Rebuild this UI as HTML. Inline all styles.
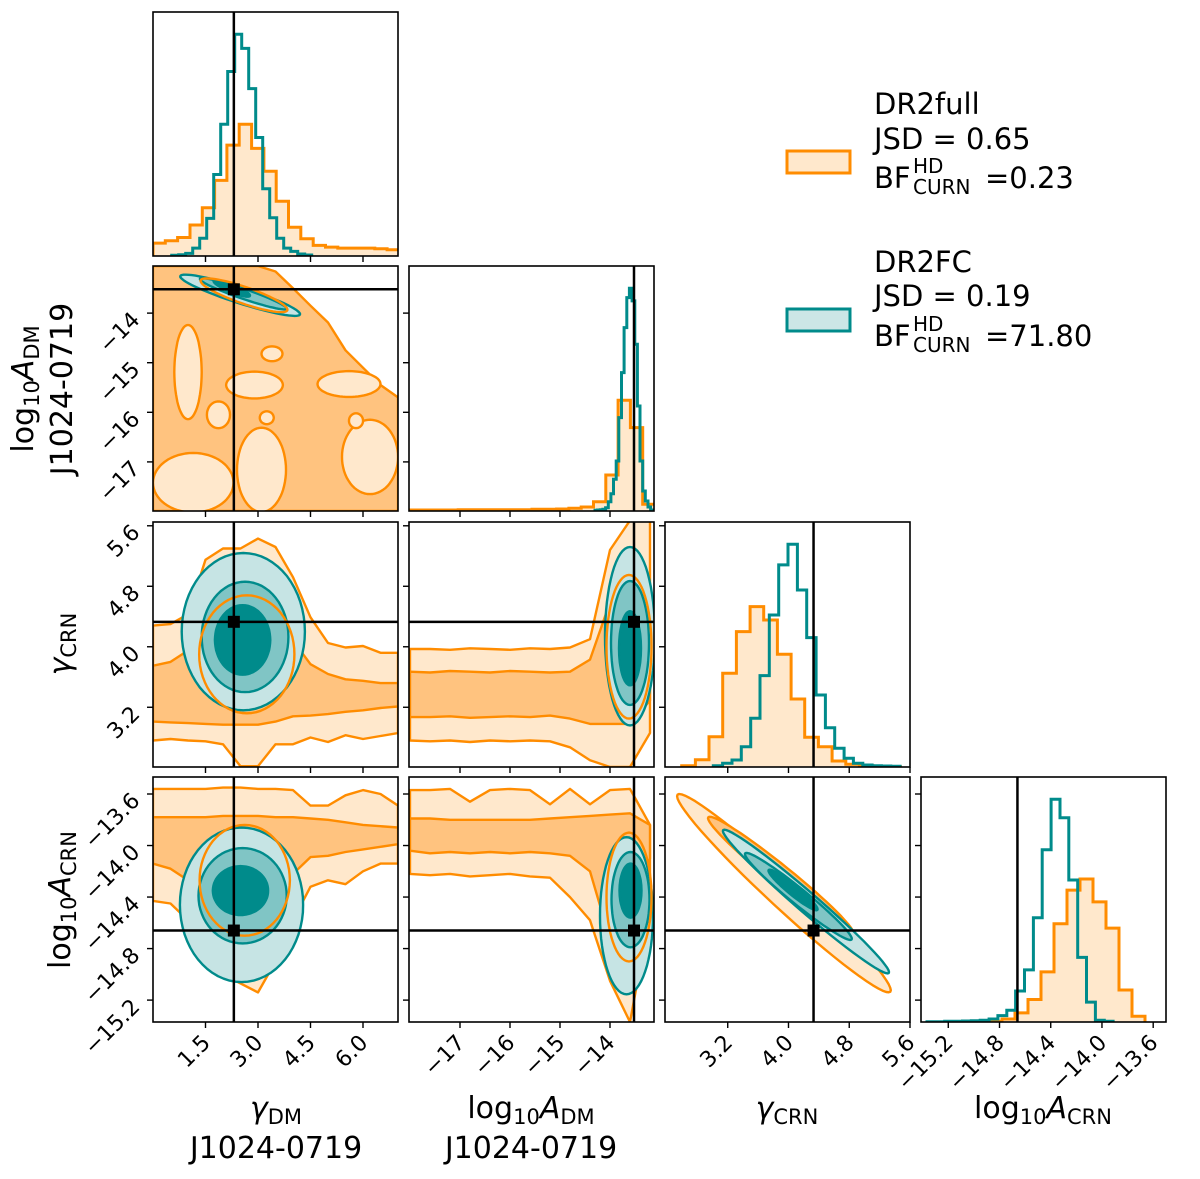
<!DOCTYPE html>
<html><head><meta charset="utf-8"><style>
html,body{margin:0;padding:0;background:#fff;}
svg{display:block;font-family:"DejaVu Sans","Liberation Sans",sans-serif;}
</style></head><body>
<svg id="fig" width="1200" height="1179" viewBox="0 0 1200 1179" xmlns="http://www.w3.org/2000/svg">
<defs id="defs"></defs>
<rect x="0" y="0" width="1200" height="1179" fill="#fff"/>
<g id="marks"></g>
<g id="axes"></g>
<g>
  <rect x="787" y="151" width="63" height="22" fill="#ffe8cc" stroke="#ff8c00" stroke-width="3"/>
  <text x="874" y="114" font-size="29">DR2full</text>
  <text x="874" y="149" font-size="29">JSD = 0.65</text>
  <text x="874" y="188" font-size="29">BF</text>
  <text x="913" y="173" font-size="20">HD</text>
  <text x="913" y="194" font-size="20">CURN</text>
  <text x="985" y="188" font-size="29">=0.23</text>
  <rect x="787" y="309" width="63" height="22" fill="#cce6e6" stroke="#008b8b" stroke-width="3"/>
  <text x="874" y="272" font-size="29">DR2FC</text>
  <text x="874" y="306" font-size="29">JSD = 0.19</text>
  <text x="874" y="346" font-size="29">BF</text>
  <text x="913" y="331" font-size="20">HD</text>
  <text x="913" y="352" font-size="20">CURN</text>
  <text x="985" y="346" font-size="29">=71.80</text>
</g>
<g>
  <text x="33" y="389" font-size="30" text-anchor="middle" transform="rotate(-90 33 389)">log<tspan font-size="21" dy="6">10</tspan><tspan font-style="italic" dy="-6">A</tspan><tspan font-size="21" dy="6">DM</tspan></text>
  <text x="72" y="389" font-size="30" text-anchor="middle" transform="rotate(-90 72 389)">J1024-0719</text>
  <text x="70" y="644" font-size="30" text-anchor="middle" transform="rotate(-90 70 644)"><tspan font-style="italic">γ</tspan><tspan font-size="21" dy="6">CRN</tspan></text>
  <text x="70" y="900" font-size="30" text-anchor="middle" transform="rotate(-90 70 900)">log<tspan font-size="21" dy="6">10</tspan><tspan font-style="italic" dy="-6">A</tspan><tspan font-size="21" dy="6">CRN</tspan></text>
  <text x="276" y="1118" font-size="30" text-anchor="middle"><tspan font-style="italic">γ</tspan><tspan font-size="21" dy="6">DM</tspan></text>
  <text x="276" y="1158" font-size="30" text-anchor="middle">J1024-0719</text>
  <text x="531" y="1118" font-size="30" text-anchor="middle">log<tspan font-size="21" dy="6">10</tspan><tspan font-style="italic" dy="-6">A</tspan><tspan font-size="21" dy="6">DM</tspan></text>
  <text x="531" y="1158" font-size="30" text-anchor="middle">J1024-0719</text>
  <text x="787" y="1118" font-size="30" text-anchor="middle"><tspan font-style="italic">γ</tspan><tspan font-size="21" dy="6">CRN</tspan></text>
  <text x="1043" y="1118" font-size="30" text-anchor="middle">log<tspan font-size="21" dy="6">10</tspan><tspan font-style="italic" dy="-6">A</tspan><tspan font-size="21" dy="6">CRN</tspan></text>
</g>
</svg>
<script>
// ---------- data ----------
const truths = [2.31, -13.52, 4.33, -14.66];
// histograms (arbitrary counts)
const h0OrangeStart = 0, h0OrangeWidth = 0.352;
const h0Orange = [39,46,56,94,146,229,336,399,326,257,166,87,52,32,27,24,24,24,22,19];
const h0TealStart = 0.533, h0TealWidth = 0.2;
const h0Teal = [2,4,8,24,54,114,247,399,559,672,629,507,359,204,116,54,24,14,6,3];
const h1OrangeStart = -18.02, h1OrangeWidth = 0.246;
const h1Orange = [3,3,3,3,4,4,4,4,4,4,5,5,6,8,12,28,108,332,250,20];
const h1TealStart = -14.3, h1TealWidth = 0.053;
const h1Teal = [2,3,4,5,10,28,52,95,150,280,415,550,640,668,630,500,315,150,60,30,12,3];
const h2OrangeStart = 2.594, h2OrangeWidth = 0.18;
const h2Orange = [4,22,91,281,406,481,441,338,204,89,61,18,8,4,2,1];
const h2TealStart = 3.01, h2TealWidth = 0.123;
const h2Teal = [4,11,21,61,146,274,456,606,668,531,388,216,118,56,26,11,6,4,3,2];
const h3OrangeStart = -14.882, h3OrangeWidth = 0.1015;
const h3Orange = [2,9,27,67,149,292,392,425,357,279,95,17];
const h3TealStart = -15.366, h3TealWidth = 0.0692;
const h3Teal = [1,1,2,2,3,4,5,9,19,35,92,155,310,512,662,607,422,192,59,5,2];

// band samples
const gammaDmSamples = [0,0.5,1,1.5,2,2.5,3,3.5,4,4.5,5,5.5,6,6.5,7];
const logAdmSamples = [-18,-17.6,-17.2,-16.8,-16.4,-16.0,-15.6,-15.2,-14.8,-14.4,-14.0,-13.6,-13.2];
// panel (row1,col0)
const p10Upper = [-13.05,-13.05,-13.05,-13.05,-13.05,-13.05,-13.05,-13.16,-13.5,-13.85,-14.19,-14.75,-15.1,-15.45,-15.7];
const p10LightBlobs = [[1.0,-15.19,0.39,0.95],[2.9,-15.45,0.81,0.27],[1.87,-16.05,0.33,0.27],[3.1,-17.16,0.7,0.85],[1.15,-17.42,1.15,0.6],[6.2,-16.9,0.8,0.75],[5.6,-15.43,0.9,0.26],[3.4,-14.82,0.3,0.15],[3.25,-16.11,0.2,0.13],[5.8,-16.17,0.2,0.15]];
const p10Teal = [[2.49,-13.64,1.71,-0.386,-0.07,-0.153],[2.58,-13.61,1.24,-0.30,-0.044,-0.095],[2.25,-13.5,0.52,-0.151,-0.035,-0.077]];
const p10OrangeLine = [2.6,-13.64,1.24,-0.30,-0.07,-0.16];
// panel (row2,col0)
const p20OuterUp = [4.28,4.3,4.43,5.15,5.3,5.3,5.43,5.32,4.92,4.39,4.05,3.99,4.01,3.92,3.92];
const p20OuterLo = [2.76,2.78,2.76,2.75,2.71,2.42,2.42,2.71,2.71,2.8,2.74,2.83,2.78,2.82,2.86];
const p20InnerUp = [3.75,3.8,3.95,4.39,4.65,4.7,4.65,4.48,4.08,3.77,3.64,3.57,3.55,3.52,3.52];
const p20InnerLo = [3.01,3.0,2.99,2.98,2.97,2.97,2.97,3.01,3.08,3.09,3.11,3.14,3.16,3.19,3.21];
const p20Teal = [[2.58,4.2,1.76,0,0,1.04],[2.63,4.13,1.24,0,0,0.73],[2.56,4.09,0.79,0,0,0.46]];
const p20OrangeLine = [2.68,3.9,1.36,0,0,0.78];
// panel (row2,col1)
const p21OuterUp = [3.97,3.97,3.96,3.98,3.97,3.96,3.98,3.97,3.99,4.1,5.28,5.67,5.67];
const p21OuterLo = [2.76,2.75,2.76,2.74,2.76,2.75,2.76,2.75,2.67,2.5,2.41,2.41,2.86];
const p21InnerUp = [3.67,3.66,3.68,3.67,3.66,3.68,3.67,3.66,3.67,3.83,4.59,4.95,4.81];
const p21InnerLo = [3.07,3.07,3.08,3.06,3.07,3.08,3.07,3.09,3.05,2.98,2.98,2.98,3.29];
const p21Teal = [[-13.6,4.14,0.5,0,0,1.18],[-13.6,4.05,0.38,0,0,0.82],[-13.6,3.98,0.22,0,0,0.49]];
const p21OrangeLine = [-13.62,4.0,0.45,0,0,0.95];
// panel (row3,col0)
const p30OuterUp = [-13.56,-13.56,-13.56,-13.56,-13.55,-13.55,-13.56,-13.56,-13.57,-13.69,-13.69,-13.61,-13.57,-13.6,-13.69];
const p30OuterLo = [-14.43,-14.45,-14.58,-14.84,-15.0,-15.07,-15.14,-14.9,-14.58,-14.32,-14.27,-14.3,-14.2,-14.14,-14.14];
const p30InnerUp = [-13.78,-13.78,-13.78,-13.78,-13.77,-13.77,-13.77,-13.78,-13.78,-13.79,-13.8,-13.82,-13.84,-13.85,-13.86];
const p30InnerLo = [-14.14,-14.18,-14.27,-14.68,-14.78,-14.8,-14.72,-14.48,-14.22,-14.09,-14.08,-14.05,-14.03,-14.01,-13.99];
const p30Teal = [[2.53,-14.46,1.76,0,0,0.6],[2.56,-14.39,1.26,0,0,0.37],[2.5,-14.35,0.79,0,0,0.19]];
const p30OrangeLine = [2.62,-14.27,1.29,0,0,0.43];
// panel (row3,col1)
const p31OuterUp = [-13.57,-13.57,-13.56,-13.66,-13.57,-13.56,-13.57,-13.68,-13.56,-13.68,-13.57,-13.56,-13.84];
const p31OuterLo = [-14.22,-14.23,-14.22,-14.24,-14.23,-14.22,-14.24,-14.25,-14.4,-14.58,-15.05,-15.37,-14.53];
const p31InnerUp = [-13.79,-13.79,-13.8,-13.8,-13.8,-13.8,-13.8,-13.79,-13.78,-13.77,-13.76,-13.75,-13.84];
const p31InnerLo = [-14.04,-14.06,-14.05,-14.06,-14.05,-14.06,-14.05,-14.06,-14.08,-14.2,-14.73,-14.78,-14.1];
const p31Teal = [[-13.67,-14.545,0.53,0,0,0.61],[-13.59,-14.42,0.38,0,0,0.37],[-13.59,-14.35,0.22,0,0,0.21]];
const p31OrangeLine = [-13.62,-14.4,0.45,0,0,0.5];
// panel (row3,col2)
const p32Orange = [[3.94,-14.37,1.4,-0.765,-0.137,-0.085],[3.9,-14.235,0.955,-0.455,-0.09,-0.057]];
const p32Teal = [[4.23,-14.435,1.09,-0.555,-0.09,-0.057],[4.13,-14.395,0.7,-0.335,-0.072,-0.045],[4.06,-14.345,0.32,-0.155,-0.045,-0.028]];

// ticks
const col0Ticks = [1.5,3.0,4.5,6.0], col0Labels = ["1.5","3.0","4.5","6.0"];
const col1Ticks = [-17,-16,-15,-14], col1Labels = ["−17","−16","−15","−14"];
const col2Ticks = [3.2,4.0,4.8,5.6], col2Labels = ["3.2","4.0","4.8","5.6"];
const col3Ticks = [-15.2,-14.8,-14.4,-14.0,-13.6], col3Labels = ["−15.2","−14.8","−14.4","−14.0","−13.6"];
const row3Ticks = [-13.6,-14.0,-14.4,-14.8,-15.2], row3Labels = ["−13.6","−14.0","−14.4","−14.8","−15.2"];

// ---------- geometry ----------
const cols = [{l:153,r:398,min:0,max:7},{l:409,r:654,min:-18.02,max:-13.12},{l:665,r:910,min:2.374,max:5.6},{l:921,r:1166,min:-15.413,max:-13.5}];
const rows = [{t:12,b:256},{t:266,b:511,min:-17.99,max:-13.05},{t:522,b:767,min:2.41,max:5.65},{t:777,b:1022,min:-15.37,max:-13.468}];
const colTicks = [[col0Ticks,col0Labels],[col1Ticks,col1Labels],[col2Ticks,col2Labels],[col3Ticks,col3Labels]];
const rowTicks = [null,[col1Ticks,col1Labels],[col2Ticks,col2Labels],[row3Ticks,row3Labels]];
const OR='#ff8c00', ORL='#ffe8cc', ORM='#ffc37f', TE='#008b8b', TEL='#c6e4e4', TEM='#80c5c5';
const NS='http://www.w3.org/2000/svg';
const marks=document.getElementById('marks'), axes=document.getElementById('axes'), defs=document.getElementById('defs');
function sx(c,v){const k=cols[c];return k.l+(v-k.min)/(k.max-k.min)*(k.r-k.l);}
function sy(r,v){const k=rows[r];return k.b-(v-k.min)/(k.max-k.min)*(k.b-k.t);}
function mk(tag,attrs,parent){const e=document.createElementNS(NS,tag);for(const a in attrs)e.setAttribute(a,attrs[a]);parent.appendChild(e);return e;}
function panelGroup(r,c){
  const cp=mk('clipPath',{id:'cp'+r+c},defs);
  mk('rect',{x:cols[c].l,y:rows[r].t,width:cols[c].r-cols[c].l,height:rows[r].b-rows[r].t},cp);
  const g=mk('g',{'clip-path':'url(#cp'+r+c+')'},marks);
  
  
  return g;
}
function ptsStr(p){return p.map(q=>q[0].toFixed(1)+','+q[1].toFixed(1)).join(' ');}

function hist(c,g,vals,start,width,ymax,color,fill,name){
  const r=c, base=rows[r].b, H=rows[r].b-rows[r].t;
  const pts=[[sx(c,start),base]];
  vals.forEach((v,i)=>{const y=base-v/ymax*H;pts.push([sx(c,start+i*width),y]);pts.push([sx(c,start+(i+1)*width),y]);});
  pts.push([sx(c,start+vals.length*width),base]);
  const e=mk('polyline',{points:ptsStr(pts),fill:fill||'none',stroke:color,'stroke-width':3,'stroke-linejoin':'miter'},g);
  
  
}
const hists=[[h0Orange,h0OrangeStart,h0OrangeWidth,h0Teal,h0TealStart,h0TealWidth],[h1Orange,h1OrangeStart,h1OrangeWidth,h1Teal,h1TealStart,h1TealWidth],[h2Orange,h2OrangeStart,h2OrangeWidth,h2Teal,h2TealStart,h2TealWidth],[h3Orange,h3OrangeStart,h3OrangeWidth,h3Teal,h3TealStart,h3TealWidth]];
hists.forEach((h,c)=>{
  const g=panelGroup(c,c);
  const ymax=1.1*Math.max(...h[0],...h[3]);
  hist(c,g,h[0],h[1],h[2],ymax,OR,ORL,'histogram-dr2full-'+c);
  hist(c,g,h[3],h[4],h[5],ymax,TE,null,'histogram-dr2fc-'+c);
  const x=sx(c,truths[c]);
  const l=mk('line',{x1:x,x2:x,y1:rows[c].t,y2:rows[c].b,stroke:'#000','stroke-width':2.5},g);
  
  
});

function band(r,c,g,xs,up,lo,fill,name){
  const pts=xs.map((x,i)=>[sx(c,x),sy(r,up[i])]);
  for(let i=xs.length-1;i>=0;i--)pts.push([sx(c,xs[i]),sy(r,lo[i])]);
  const e=mk('polygon',{points:ptsStr(pts),fill:fill,stroke:OR,'stroke-width':2.4,'stroke-linejoin':'round'},g);
  
  
}
function ell(r,c,g,p,fill,stroke,name){
  const pts=[];for(let i=0;i<64;i++){const t=i/64*2*Math.PI;pts.push([sx(c,p[0]+Math.cos(t)*p[2]+Math.sin(t)*p[4]),sy(r,p[1]+Math.cos(t)*p[3]+Math.sin(t)*p[5])]);}
  const e=mk('polygon',{points:ptsStr(pts),fill:fill,stroke:stroke,'stroke-width':2.4,'stroke-linejoin':'round'},g);
  
  
}
function tealSet(r,c,g,arr){const f=[TEL,TEM,TE];arr.forEach((p,i)=>ell(r,c,g,p,f[i],TE,'contour-dr2fc-level'+i));}
function truthCross(r,c,g){
  const x=sx(c,truths[c]),y=sy(r,truths[r]);
  const a=mk('line',{x1:x,x2:x,y1:rows[r].t,y2:rows[r].b,stroke:'#000','stroke-width':2.5},g);
  
  
  const b=mk('line',{x1:cols[c].l,x2:cols[c].r,y1:y,y2:y,stroke:'#000','stroke-width':2.5},g);
  
  
  const s=mk('rect',{x:x-6,y:y-6,width:12,height:12,fill:'#000'},g);
  
  
}
(function(){const g=panelGroup(1,0);
  const lo=gammaDmSamples.map(()=>rows[1].min);
  band(1,0,g,gammaDmSamples,p10Upper,lo,ORM,'contour-dr2full-outer');
  p10LightBlobs.forEach((b,i)=>ell(1,0,g,[b[0],b[1],b[2],0,0,b[3]],ORL,OR,'contour-dr2full-patch'));
  tealSet(1,0,g,p10Teal);
  ell(1,0,g,p10OrangeLine,'none',OR,'contour-dr2full-inner');
  truthCross(1,0,g);})();
(function(){const g=panelGroup(2,0);
  band(2,0,g,gammaDmSamples,p20OuterUp,p20OuterLo,ORL,'contour-dr2full-outer');
  band(2,0,g,gammaDmSamples,p20InnerUp,p20InnerLo,ORM,'contour-dr2full-inner');
  tealSet(2,0,g,p20Teal);
  ell(2,0,g,p20OrangeLine,'none',OR,'contour-dr2full-core');
  truthCross(2,0,g);})();
(function(){const g=panelGroup(2,1);
  band(2,1,g,logAdmSamples,p21OuterUp,p21OuterLo,ORL,'contour-dr2full-outer');
  band(2,1,g,logAdmSamples,p21InnerUp,p21InnerLo,ORM,'contour-dr2full-inner');
  tealSet(2,1,g,p21Teal);
  ell(2,1,g,p21OrangeLine,'none',OR,'contour-dr2full-core');
  truthCross(2,1,g);})();
(function(){const g=panelGroup(3,0);
  band(3,0,g,gammaDmSamples,p30OuterUp,p30OuterLo,ORL,'contour-dr2full-outer');
  band(3,0,g,gammaDmSamples,p30InnerUp,p30InnerLo,ORM,'contour-dr2full-inner');
  tealSet(3,0,g,p30Teal);
  ell(3,0,g,p30OrangeLine,'none',OR,'contour-dr2full-core');
  truthCross(3,0,g);})();
(function(){const g=panelGroup(3,1);
  band(3,1,g,logAdmSamples,p31OuterUp,p31OuterLo,ORL,'contour-dr2full-outer');
  band(3,1,g,logAdmSamples,p31InnerUp,p31InnerLo,ORM,'contour-dr2full-inner');
  tealSet(3,1,g,p31Teal);
  ell(3,1,g,p31OrangeLine,'none',OR,'contour-dr2full-core');
  truthCross(3,1,g);})();
(function(){const g=panelGroup(3,2);
  ell(3,2,g,p32Orange[0],ORL,OR,'contour-dr2full-outer');
  ell(3,2,g,p32Orange[1],ORM,OR,'contour-dr2full-inner');
  tealSet(3,2,g,p32Teal);
  truthCross(3,2,g);})();

for(let r=0;r<4;r++)for(let c=0;c<=r;c++){
  const f=mk('rect',{x:cols[c].l,y:rows[r].t,width:cols[c].r-cols[c].l,height:rows[r].b-rows[r].t,fill:'none',stroke:'#000','stroke-width':1.6},axes);
  
  
  const [xt,xl]=colTicks[c];
  xt.forEach((v,i)=>{const x=sx(c,v);
    const t=mk('line',{x1:x,x2:x,y1:rows[r].b,y2:rows[r].b+6,stroke:'#000','stroke-width':1.4},axes);
    
    
    if(r===3){const y=rows[r].b+14;
      const tx=mk('text',{x:x+6,y:y+8,'font-size':22,'text-anchor':'end',transform:'rotate(-45 '+(x+6)+' '+(y+8)+')'},axes);
      tx.textContent=xl[i];
      
      }
  });
  if(c===0&&r>0){const [yt,yl]=rowTicks[r];
    yt.forEach((v,i)=>{const y=sy(r,v);
      const t=mk('line',{x1:cols[0].l-6,x2:cols[0].l,y1:y,y2:y,stroke:'#000','stroke-width':1.4},axes);
      
      
      const x=cols[0].l-12;
      const tx=mk('text',{x:x,y:y+8,'font-size':22,'text-anchor':'end',transform:'rotate(-45 '+x+' '+(y+8)+')'},axes);
      tx.textContent=yl[i];
      
      });
  } else if(r>0){const [yt]=rowTicks[r];
    yt.forEach(v=>{const y=sy(r,v);
      const t=mk('line',{x1:cols[c].l-6,x2:cols[c].l,y1:y,y2:y,stroke:'#000','stroke-width':1.4},axes);
      
      });
  }
}
</script>
</body></html>
